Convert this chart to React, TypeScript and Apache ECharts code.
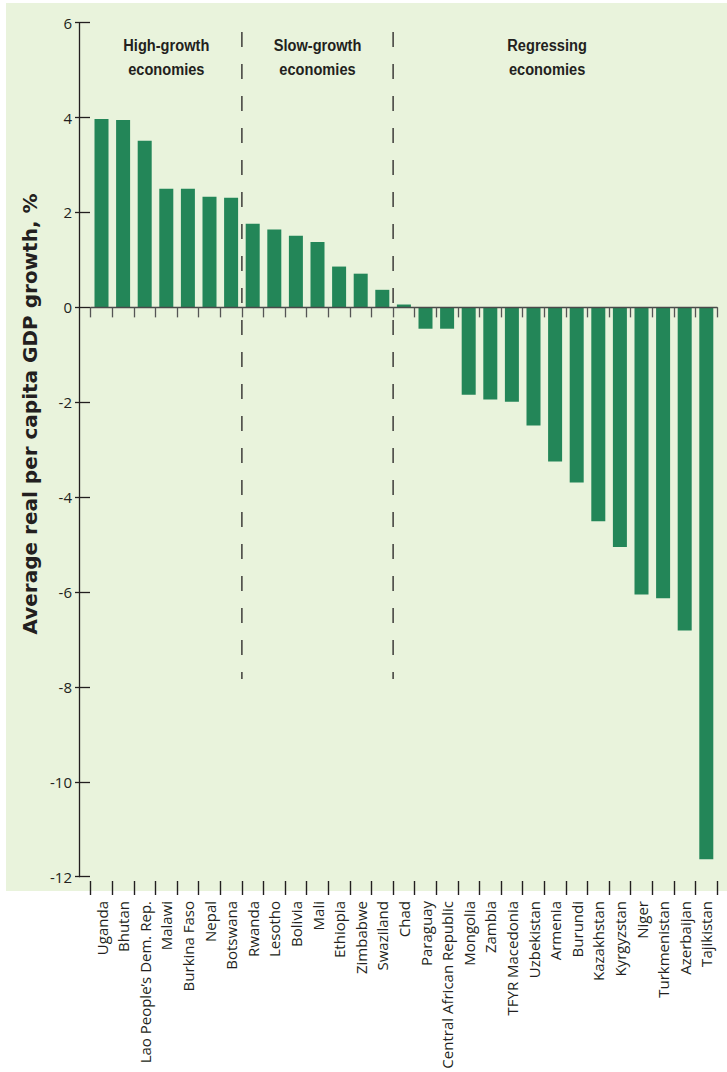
import React, { useEffect, useRef } from 'react';
import * as echarts from 'echarts';

const categories = [
  'Uganda', 'Bhutan', 'Lao People’s Dem. Rep.', 'Malawi', 'Burkina Faso', 'Nepal', 'Botswana',
  'Rwanda', 'Lesotho', 'Bolivia', 'Mali', 'Ethiopia', 'Zimbabwe', 'Swaziland',
  'Chad', 'Paraguay', 'Central African Republic', 'Mongolia', 'Zambia', 'TFYR Macedonia',
  'Uzbekistan', 'Armenia', 'Burundi', 'Kazakhstan', 'Kyrgyzstan', 'Niger', 'Turkmenistan',
  'Azerbaijan', 'Tajikistan',
];
const growth = [
  3.97, 3.95, 3.51, 2.5, 2.5, 2.33, 2.31,
  1.76, 1.64, 1.51, 1.38, 0.86, 0.71, 0.37,
  0.06, -0.45, -0.45, -1.84, -1.94, -1.99,
  -2.49, -3.25, -3.69, -4.51, -5.05, -6.05, -6.13,
  -6.81, -11.63,
];
const yMin = -12;
const yMax = 6;
const yStep = 2;
const groupLabels = ['High-growth\neconomies', 'Slow-growth\neconomies', 'Regressing\neconomies'];
const groupFirst = [0, 7, 14];
const groupLast = [6, 13, 28];
const yTitle = 'Average real per capita GDP growth, %';

const INK = '#231f20';
const BAR = '#238658';
const BG = '#e9f3dc';

export default function App() {
  const ref = useRef<HTMLDivElement>(null);
  useEffect(() => {
    if (!ref.current) return;
    const chart = echarts.init(ref.current, undefined, { renderer: 'svg' });
    const option: any = {
      animation: false,
      grid: { left: 90.7, right: 9.9, top: 22.7, bottom: 195.3, containLabel: false },
      xAxis: [
        {
          type: 'category',
          data: categories,
          position: 'bottom',
          axisLine: { show: true, onZero: true, lineStyle: { color: '#4a4a4a', width: 1.4 } },
          axisTick: { show: true, interval: 0, length: 10, lineStyle: { color: '#555', width: 1.3 } },
          axisLabel: { show: false, interval: 0 },
          splitLine: { show: false },
          z: 3,
        },
        {
          type: 'category',
          data: categories,
          position: 'bottom',
          offset: 4.3,
          axisLine: { show: false, onZero: false },
          axisTick: { show: true, interval: 0, length: 14, lineStyle: { color: INK, width: 1.4 } },
          axisLabel: {
            show: true,
            interval: 0,
            rotate: 90,
            margin: 20,
            fontFamily: 'Open Sans',
            fontSize: 15,
            color: INK,
          },
          splitLine: { show: false },
        },
      ],
      yAxis: [
        {
          type: 'value',
          position: 'left',
          min: yMin,
          max: yMax,
          interval: yStep,
          offset: 11.7,
          axisLine: { show: true, lineStyle: { color: INK, width: 1.3 } },
          axisTick: { show: true, inside: true, length: 11, lineStyle: { color: INK, width: 1.3 } },
          axisLabel: { margin: 7, fontFamily: 'Open Sans', fontSize: 15, color: INK },
          splitLine: { show: false },
        },
        {
          type: 'value',
          position: 'left',
          min: yMin,
          max: yMax,
          interval: yStep,
          offset: 11.7,
          axisLine: { show: false },
          axisTick: { show: true, inside: false, length: 4, lineStyle: { color: INK, width: 1.3 } },
          axisLabel: { show: false },
          splitLine: { show: false },
        },
      ],
      series: [
        {
          type: 'bar',
          data: growth,
          xAxisIndex: 0,
          yAxisIndex: 0,
          barWidth: 14,
          itemStyle: { color: BAR },
        },
      ],
    };
    chart.setOption(option);

    const c0 = chart.convertToPixel({ xAxisIndex: 0 }, categories[0]) as number;
    const c1 = chart.convertToPixel({ xAxisIndex: 0 }, categories[1]) as number;
    const band = c1 - c0;
    const leftEdge = (i: number) => (chart.convertToPixel({ xAxisIndex: 0 }, categories[i]) as number) - band / 2;
    const rightEdge = (i: number) => (chart.convertToPixel({ xAxisIndex: 0 }, categories[i]) as number) + band / 2;

    const graphics: any[] = [
      {
        type: 'rect',
        silent: true,
        z: -10,
        shape: { x: 6, y: 3, width: 721, height: 888 },
        style: { fill: BG },
      },
      {
        type: 'text',
        x: 30,
        y: 414,
        rotation: Math.PI / 2,
        style: {
          text: yTitle,
          font: 'bold 20px "DejaVu Sans"',
          fill: INK,
          textAlign: 'center',
          textVerticalAlign: 'middle',
        },
      },
    ];
    const headerShift = [0, 0, -8];
    groupLabels.forEach((lab, gi) => {
      const cx = (leftEdge(groupFirst[gi]) + rightEdge(groupLast[gi])) / 2 + headerShift[gi];
      graphics.push({
        type: 'text',
        x: cx,
        y: 33,
        scaleX: 0.86,
        style: {
          text: lab,
          font: 'bold 17px "Liberation Sans"',
          fill: INK,
          textAlign: 'center',
          textVerticalAlign: 'top',
          lineHeight: 24,
        },
      });
    });
    for (let gi = 1; gi < groupFirst.length; gi++) {
      const x = leftEdge(groupFirst[gi]);
      graphics.push({
        type: 'line',
        silent: true,
        shape: { x1: x, y1: 32, x2: x, y2: 679 },
        style: { stroke: INK, lineWidth: 1.3, lineDash: [15, 17] },
      });
    }
    chart.setOption({ graphic: graphics });

    return () => chart.dispose();
  }, []);
  return (
    <div
      ref={ref}
      style={{ position: 'fixed', left: 0, top: 0, width: 727, height: 1072, background: '#ffffff' }}
    />
  );
}
